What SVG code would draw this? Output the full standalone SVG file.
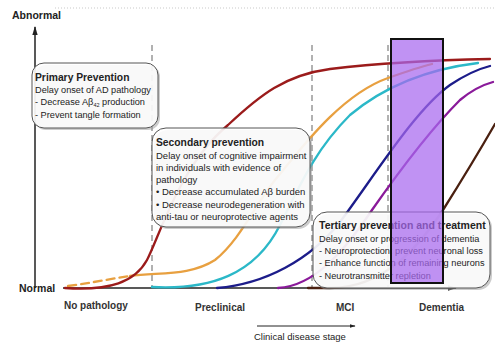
<svg xmlns="http://www.w3.org/2000/svg" width="495" height="343" viewBox="0 0 495 343">
<defs>
<style>
.t{font-family:"Liberation Sans",Arial,sans-serif;fill:#222}
.b{font-weight:bold}
.ax{stroke:#222;stroke-width:1.5;fill:none}
.dash{stroke:#888;stroke-width:1.3;stroke-dasharray:6,4;fill:none}
.cv{fill:none;stroke-width:2.3;stroke-linecap:round}
.box{fill:#fff;fill-opacity:0.88;stroke:#555;stroke-width:1}
.sh{fill:#999;fill-opacity:0.5}
.lab{font-family:"Liberation Sans",Arial,sans-serif;font-weight:bold;fill:#333;font-size:10px}
</style>
<marker id="ah" viewBox="0 0 10 10" refX="9" refY="5" markerWidth="6" markerHeight="6" orient="auto">
<path d="M0,2 L10,5 L0,8 z" fill="#222"/>
</marker>
</defs>
<rect width="495" height="343" fill="#fff"/>
<line x1="55" y1="8" x2="495" y2="8" stroke="#bbb" stroke-width="0.8" stroke-dasharray="1,2"/>
<g id="axes">
<line class="ax" x1="35" y1="288" x2="35" y2="27" marker-end="url(#ah)"/>
<line class="ax" x1="63" y1="288" x2="456" y2="288" marker-end="url(#ah)"/>
<text class="t b" x="12" y="19" font-size="10.5">Abnormal</text>
<text class="t b" x="19" y="292" font-size="10.5">Normal</text>
<text class="lab" x="64" y="309">No pathology</text>
<text class="lab" x="195" y="311">Preclinical</text>
<text class="lab" x="336" y="311">MCI</text>
<text class="lab" x="419" y="311">Dementia</text>
<line x1="257" y1="326" x2="355" y2="326" stroke="#222" stroke-width="1" marker-end="url(#ah)"/>
<text class="t" x="254" y="340" font-size="9.5">Clinical disease stage</text>
</g>
<g id="stage-lines">
<line class="dash" x1="152" y1="45" x2="152" y2="288"/>
<line class="dash" x1="312" y1="45" x2="312" y2="288"/>
<line class="dash" x1="388" y1="45" x2="388" y2="288"/>
</g>
<g id="connectors">
<path class="cv" stroke="#e8a040" stroke-dasharray="8,5" d="M68,286 C90,283 110,279 130,276"/>
<path class="cv" stroke="#e8a040" d="M130,276 C160,272 190,276 215,260 C240,240 255,205 275,180 C300,150 340,95 388,78 C405,72 420,67 432,64"/>
<path class="cv" stroke="#9b1b1b" d="M65,288 C110,291 135,282 147,260 C160,235 180,165 228,125 C260,95 285,75 330,69 C380,63 440,60 490,59"/>
<path class="cv" stroke="#2bb8c8" d="M152,287 C210,290 255,275 280,225 C300,185 315,150 350,115 C380,90 420,70 478,63"/>
<path class="cv" stroke="#1c1c8a" d="M217,288 C265,284 310,260 340,222 C375,175 415,110 450,85 C465,75 478,69 490,66"/>
<path class="cv" stroke="#8a1a9a" d="M278,288 C315,286 345,250 372,210 C400,170 430,130 460,100 C472,90 482,85 493,82"/>
<path class="cv" stroke="#4a2010" d="M308,288 L330,288 C385,288 420,245 443,210 C460,183 480,150 495,124"/>
</g>
<g id="primary-prevention">
<rect class="sh" x="34" y="65" width="126" height="65" rx="12"/>
<rect class="box" x="32" y="63" width="126" height="65" rx="12"/>
<text class="t b" x="35" y="81" font-size="10.3">Primary Prevention</text>
<text class="t" x="35" y="93" font-size="9.2">Delay onset of AD pathology</text>
<text class="t" x="35" y="105" font-size="9.2">- Decrease Aβ<tspan font-size="5.5" dy="2">42</tspan><tspan dy="-2"> production</tspan></text>
<text class="t" x="35" y="118" font-size="9.2">- Prevent tangle formation</text>
</g>
<g id="secondary-prevention">
<rect class="sh" x="154" y="130" width="158" height="99" rx="14"/>
<rect class="box" x="152" y="128" width="158" height="99" rx="14"/>
<text class="t b" x="156" y="146" font-size="10.3">Secondary prevention</text>
<text class="t" x="156" y="159" font-size="9.5">Delay onset of cognitive impairment</text>
<text class="t" x="156" y="171" font-size="9.5">in individuals with evidence of</text>
<text class="t" x="156" y="183" font-size="9.5">pathology</text>
<text class="t" x="156" y="195" font-size="9.5">• Decrease accumulated Aβ burden</text>
<text class="t" x="156" y="208" font-size="9.5">• Decrease neurodegeneration with</text>
<text class="t" x="156" y="220" font-size="9.5">anti-tau or neuroprotective agents</text>
</g>
<g id="tertiary-prevention">
<rect class="sh" x="315" y="214" width="177" height="76" rx="14"/>
<rect class="box" x="313" y="212" width="177" height="76" rx="14"/>
<text class="t b" x="319" y="229" font-size="10.5">Tertiary prevention and treatment</text>
<text class="t" x="319" y="242" font-size="9.2">Delay onset or progression of dementia</text>
<text class="t" x="319" y="254" font-size="9.2">- Neuroprotection: prevent neuronal loss</text>
<text class="t" x="319" y="266" font-size="9.2">- Enhance function of remaining neurons</text>
<text class="t" x="319" y="279" font-size="9.2">- Neurotransmitter repletion</text>
</g>
<g id="highlight">
<rect x="391" y="39" width="52" height="244" fill="#a868ee" fill-opacity="0.72" stroke="#111" stroke-width="2"/>
</g>
</svg>
